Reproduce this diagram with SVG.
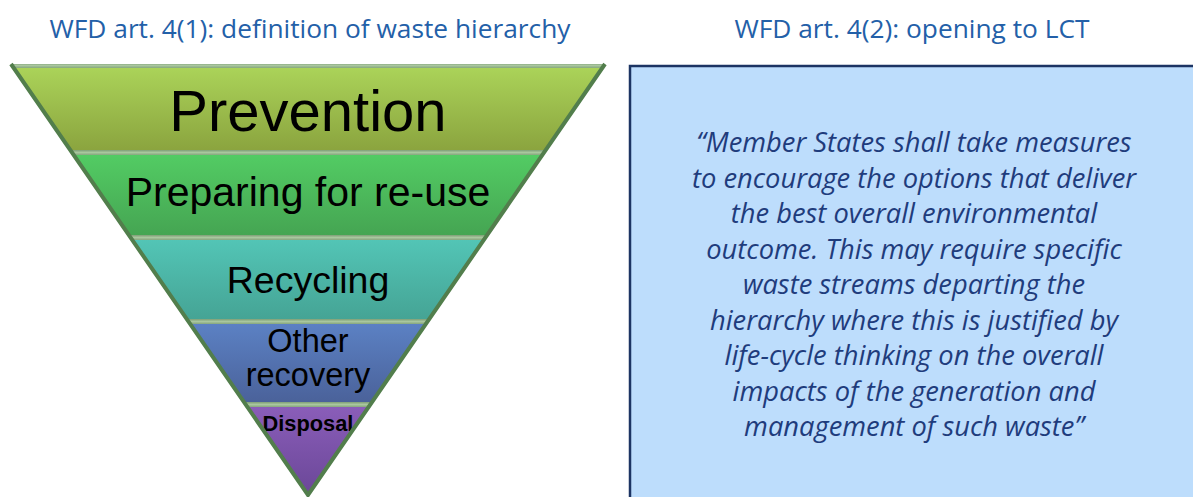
<svg xmlns="http://www.w3.org/2000/svg" width="1193" height="497" viewBox="0 0 1193 497">
<style>
.title{font-family:"Open Sans","Liberation Sans",sans-serif;font-size:26.3px;fill:#2360A8;text-anchor:middle}
.lbl{font-family:"Liberation Sans",Arial,sans-serif;fill:#000;text-anchor:middle}
.quote{font-family:"Open Sans","Liberation Sans",sans-serif;font-style:italic;font-size:27.3px;fill:#1F3C7C;text-anchor:middle}
</style>
<defs>
<linearGradient id="gPrev" x1="0" y1="0" x2="0" y2="1"><stop offset="0" stop-color="#ACD55A"/><stop offset="1" stop-color="#8AA33E"/></linearGradient>
<linearGradient id="gPrep" x1="0" y1="0" x2="0" y2="1"><stop offset="0" stop-color="#53CD64"/><stop offset="1" stop-color="#45A452"/></linearGradient>
<linearGradient id="gRec" x1="0" y1="0" x2="0" y2="1"><stop offset="0" stop-color="#53C6B7"/><stop offset="1" stop-color="#45A394"/></linearGradient>
<linearGradient id="gOth" x1="0" y1="0" x2="0" y2="1"><stop offset="0" stop-color="#5C82C5"/><stop offset="1" stop-color="#4A6199"/></linearGradient>
<linearGradient id="gDis" x1="0" y1="0" x2="0" y2="1"><stop offset="0" stop-color="#8B5EBA"/><stop offset="1" stop-color="#694696"/></linearGradient>
<linearGradient id="gSep" x1="0" y1="0" x2="0" y2="1"><stop offset="0" stop-color="#7E9E76"/><stop offset="0.5" stop-color="#A9C79E"/><stop offset="1" stop-color="#86A67E"/></linearGradient>
<clipPath id="tri"><polygon points="11,64 605,64 308,495"/></clipPath>
</defs>
<g id="titles">
<text class="title" x="310" y="38">WFD art. 4(1): definition of waste hierarchy</text>
<text class="title" x="912" y="38">WFD art. 4(2): opening to LCT</text>
</g>
<g id="pyramid" clip-path="url(#tri)">
<g id="prevention"><rect x="0" y="64" width="620" height="88" fill="url(#gPrev)"/><rect x="0" y="63" width="620" height="5" fill="url(#gSep)"/><text class="lbl" x="308" y="131" font-size="58">Prevention</text></g>
<g id="preparing"><rect x="0" y="152" width="620" height="85" fill="url(#gPrep)"/><rect x="0" y="150" width="620" height="5" fill="url(#gSep)"/><text class="lbl" x="308" y="206" font-size="41">Preparing for re-use</text></g>
<g id="recycling"><rect x="0" y="237" width="620" height="84" fill="url(#gRec)"/><rect x="0" y="235" width="620" height="5" fill="url(#gSep)"/><text class="lbl" x="308" y="293" font-size="37.5">Recycling</text></g>
<g id="other-recovery"><rect x="0" y="321" width="620" height="83" fill="url(#gOth)"/><rect x="0" y="319" width="620" height="5" fill="url(#gSep)"/><text class="lbl" x="308" y="352" font-size="32.5">Other</text><text class="lbl" x="308" y="386" font-size="32.5">recovery</text></g>
<g id="disposal"><rect x="0" y="404" width="620" height="95" fill="url(#gDis)"/><rect x="0" y="402" width="620" height="5" fill="url(#gSep)"/><text class="lbl" x="308" y="431" font-size="21.8" font-weight="bold">Disposal</text></g>
</g>
<polyline points="11,64 308,495 605,64" fill="none" stroke="#527E4C" stroke-width="4" stroke-linejoin="miter"/>
<g id="quote-box">
<rect x="630" y="66" width="580" height="450" fill="#BDDDFC" stroke="#1C3463" stroke-width="2.5"/>
<text class="quote" x="914" y="152">“Member States shall take measures</text>
<text class="quote" x="914" y="188">to encourage the options that deliver</text>
<text class="quote" x="914" y="223">the best overall environmental</text>
<text class="quote" x="914" y="259">outcome. This may require specific</text>
<text class="quote" x="914" y="294">waste streams departing the</text>
<text class="quote" x="914" y="330">hierarchy where this is justified by</text>
<text class="quote" x="914" y="365">life-cycle thinking on the overall</text>
<text class="quote" x="914" y="401">impacts of the generation and</text>
<text class="quote" x="914" y="436">management of such waste”</text>
</g>
</svg>
